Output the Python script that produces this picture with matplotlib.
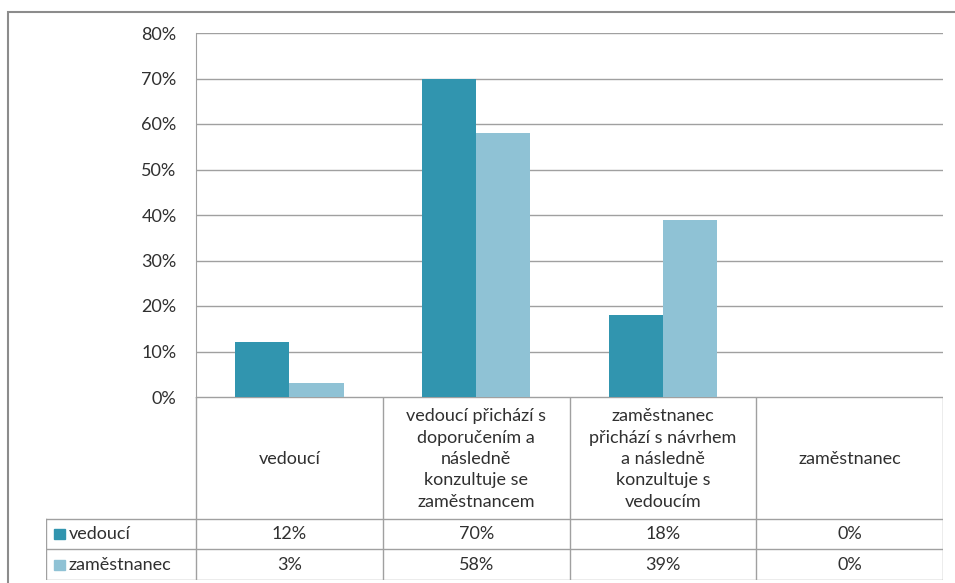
import numpy as np
import matplotlib.pyplot as plt
from matplotlib.patches import Rectangle

categories = ['vedoucí',
              'vedoucí přichází s\ndoporučením a\nnásledně\nkonzultuje se\nzaměstnancem',
              'zaměstnanec\npřichází s návrhem\na následně\nkonzultuje s\nvedoucím',
              'zaměstnanec']
series_names = ['vedoucí', 'zaměstnanec']
vedouci = [12, 70, 18, 0]
zamestnanec = [3, 58, 39, 0]
yticks = [0, 10, 20, 30, 40, 50, 60, 70, 80]

dark = '#3195AF'
light = '#8FC2D5'
grid_c = '#A0A0A0'
text_c = '#303030'
fs = 13

plt.rcParams['font.family'] = ['Lato', 'DejaVu Sans']
plt.rcParams['font.size'] = fs

W, H = 955, 583
fig = plt.figure(figsize=(W / 100, H / 100), dpi=100)

# outer chart frame
fig.patches.append(Rectangle((8 / W, -0.05), 1.0, (H - 12) / H + 0.05,
                             transform=fig.transFigure, fill=False,
                             edgecolor='#8C8C8C', linewidth=1.5))

# plot area
x0, x1, ytop, ybot = 196, 943, 33, 397
ax = fig.add_axes([x0 / W, (H - ybot) / H, (x1 - x0) / W, (ybot - ytop) / H])
x = np.arange(len(categories))
w = 0.29
ax.bar(x - w / 2, vedouci, w, color=dark, zorder=3)
ax.bar(x + w / 2, zamestnanec, w, color=light, zorder=3)
ax.set_xlim(-0.5, 3.5)
ax.set_ylim(0, 80)
ax.set_yticks(yticks)
ax.set_yticklabels([f'{v}%' for v in yticks], color=text_c, fontsize=fs)
ax.tick_params(axis='y', length=0, pad=14)
ax.set_xticks([])
ax.grid(axis='y', color=grid_c, linewidth=1)
for s in ['top', 'right', 'bottom']:
    ax.spines[s].set_visible(False)
ax.spines['left'].set_color(grid_c)

# data table under the plot
cat_px = (x1 - x0) / 4
leg_w = (196 - 46) / cat_px
tb_top, tb_hdr, tb_mid, tb_bot = 397, 519, 549, 580
tax = fig.add_axes([46 / W, (H - tb_bot) / H, (x1 - 46) / W, (tb_bot - tb_top) / H])
tax.set_xlim(-0.5 - leg_w, 3.5)
tax.set_ylim(tb_bot, tb_top)
tax.axis('off')
lk = dict(color=grid_c, linewidth=1)
tax.plot([-0.5, 3.5], [tb_top, tb_top], **lk)
for yy in (tb_hdr, tb_mid, tb_bot):
    tax.plot([-0.5 - leg_w, 3.5], [yy, yy], **lk)
for xx in np.arange(-0.5, 3.6, 1.0):
    tax.plot([xx, xx], [tb_top, tb_bot], **lk)
tax.plot([-0.5 - leg_w, -0.5 - leg_w], [tb_hdr, tb_bot], **lk)

for i, c in enumerate(categories):
    tax.text(i, (tb_top + tb_hdr) / 2 + 1, c, ha='center', va='center',
             color=text_c, fontsize=fs, linespacing=1.42)

rows = [(tb_hdr + tb_mid) / 2, (tb_mid + tb_bot) / 2]
for name, vals, col, yy in zip(series_names, [vedouci, zamestnanec], [dark, light], rows):
    tax.add_patch(Rectangle((-0.5 - leg_w + 0.045, yy - 5), 0.055, 10,
                            color=col, clip_on=False))
    tax.text(-0.5 - leg_w + 0.12, yy, name, ha='left', va='center',
             color=text_c, fontsize=fs)
    for i, v in enumerate(vals):
        tax.text(i, yy, f'{v}%', ha='center', va='center', color=text_c, fontsize=fs)

fig.savefig('out.png', dpi=100)
